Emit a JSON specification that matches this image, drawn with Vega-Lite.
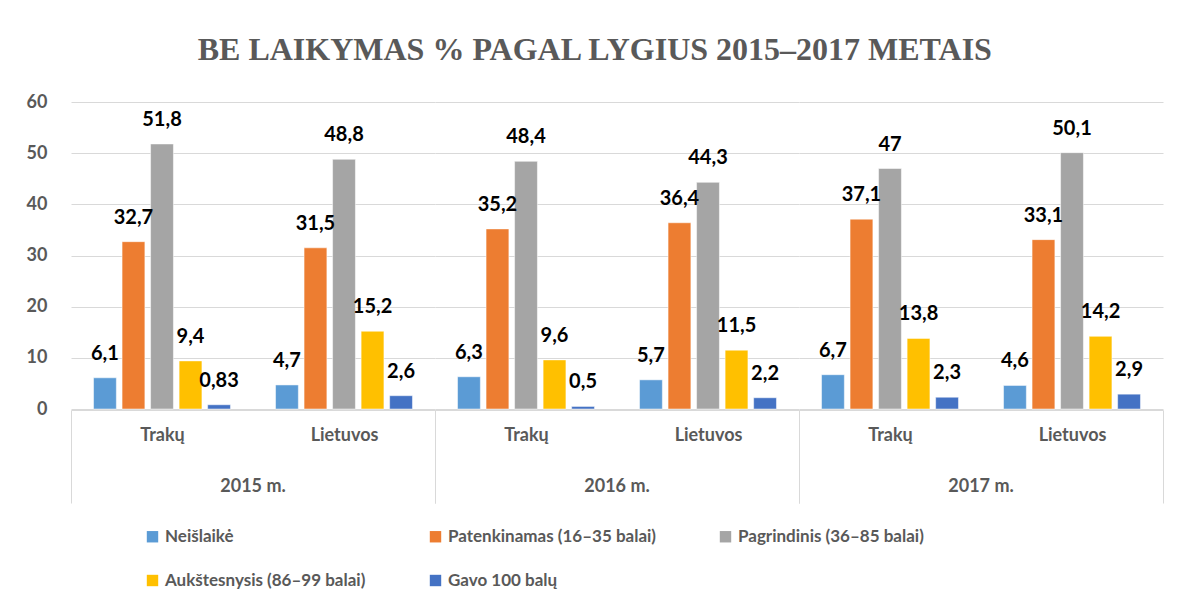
{
  "$schema": "https://vega.github.io/schema/vega-lite/v6.json",
  "background": "white",
  "padding": {"left": 26, "top": 34, "right": 20, "bottom": 5},
  "title": {"text": "BE LAIKYMAS % PAGAL LYGIUS 2015–2017 METAIS", "font": "Liberation Serif", "fontSize": 32, "fontWeight": "bold", "color": "#595959", "offset": 26, "anchor": "middle"},
  "data": {"values": [
    {"year": "2015 m.", "region": "Trakų", "series": "Neišlaikė", "value": 6.1, "label": "6,1"},
    {"year": "2015 m.", "region": "Trakų", "series": "Patenkinamas (16–35 balai)", "value": 32.7, "label": "32,7"},
    {"year": "2015 m.", "region": "Trakų", "series": "Pagrindinis (36–85 balai)", "value": 51.8, "label": "51,8"},
    {"year": "2015 m.", "region": "Trakų", "series": "Aukštesnysis (86–99 balai)", "value": 9.4, "label": "9,4"},
    {"year": "2015 m.", "region": "Trakų", "series": "Gavo 100 balų", "value": 0.83, "label": "0,83"},
    {"year": "2015 m.", "region": "Lietuvos", "series": "Neišlaikė", "value": 4.7, "label": "4,7"},
    {"year": "2015 m.", "region": "Lietuvos", "series": "Patenkinamas (16–35 balai)", "value": 31.5, "label": "31,5"},
    {"year": "2015 m.", "region": "Lietuvos", "series": "Pagrindinis (36–85 balai)", "value": 48.8, "label": "48,8"},
    {"year": "2015 m.", "region": "Lietuvos", "series": "Aukštesnysis (86–99 balai)", "value": 15.2, "label": "15,2"},
    {"year": "2015 m.", "region": "Lietuvos", "series": "Gavo 100 balų", "value": 2.6, "label": "2,6"},
    {"year": "2016 m.", "region": "Trakų", "series": "Neišlaikė", "value": 6.3, "label": "6,3"},
    {"year": "2016 m.", "region": "Trakų", "series": "Patenkinamas (16–35 balai)", "value": 35.2, "label": "35,2"},
    {"year": "2016 m.", "region": "Trakų", "series": "Pagrindinis (36–85 balai)", "value": 48.4, "label": "48,4"},
    {"year": "2016 m.", "region": "Trakų", "series": "Aukštesnysis (86–99 balai)", "value": 9.6, "label": "9,6"},
    {"year": "2016 m.", "region": "Trakų", "series": "Gavo 100 balų", "value": 0.5, "label": "0,5"},
    {"year": "2016 m.", "region": "Lietuvos", "series": "Neišlaikė", "value": 5.7, "label": "5,7"},
    {"year": "2016 m.", "region": "Lietuvos", "series": "Patenkinamas (16–35 balai)", "value": 36.4, "label": "36,4"},
    {"year": "2016 m.", "region": "Lietuvos", "series": "Pagrindinis (36–85 balai)", "value": 44.3, "label": "44,3"},
    {"year": "2016 m.", "region": "Lietuvos", "series": "Aukštesnysis (86–99 balai)", "value": 11.5, "label": "11,5"},
    {"year": "2016 m.", "region": "Lietuvos", "series": "Gavo 100 balų", "value": 2.2, "label": "2,2"},
    {"year": "2017 m.", "region": "Trakų", "series": "Neišlaikė", "value": 6.7, "label": "6,7"},
    {"year": "2017 m.", "region": "Trakų", "series": "Patenkinamas (16–35 balai)", "value": 37.1, "label": "37,1"},
    {"year": "2017 m.", "region": "Trakų", "series": "Pagrindinis (36–85 balai)", "value": 47, "label": "47"},
    {"year": "2017 m.", "region": "Trakų", "series": "Aukštesnysis (86–99 balai)", "value": 13.8, "label": "13,8"},
    {"year": "2017 m.", "region": "Trakų", "series": "Gavo 100 balų", "value": 2.3, "label": "2,3"},
    {"year": "2017 m.", "region": "Lietuvos", "series": "Neišlaikė", "value": 4.6, "label": "4,6"},
    {"year": "2017 m.", "region": "Lietuvos", "series": "Patenkinamas (16–35 balai)", "value": 33.1, "label": "33,1"},
    {"year": "2017 m.", "region": "Lietuvos", "series": "Pagrindinis (36–85 balai)", "value": 50.1, "label": "50,1"},
    {"year": "2017 m.", "region": "Lietuvos", "series": "Aukštesnysis (86–99 balai)", "value": 14.2, "label": "14,2"},
    {"year": "2017 m.", "region": "Lietuvos", "series": "Gavo 100 balų", "value": 2.9, "label": "2,9"}
  ]},
  "facet": {
    "column": {
      "field": "year", "type": "ordinal", "sort": ["2015 m.", "2016 m.", "2017 m."],
      "header": {"title": null, "labelOrient": "bottom", "labelFont": "Lato", "labelFontSize": 18, "labelFontWeight": "bold", "labelColor": "#595959", "labelPadding": -26}
    }
  },
  "spacing": 0,
  "spec": {
    "width": 364,
    "height": 307,
    "encoding": {
      "x": {
        "field": "region", "type": "nominal", "sort": ["Trakų", "Lietuvos"],
        "scale": {"paddingInner": 0, "paddingOuter": 0},
        "axis": {
          "title": null, "labelAngle": 0, "domain": true, "domainColor": "#d9d9d9", "domainWidth": 1,
          "ticks": true, "tickBand": "extent", "tickSize": 93, "tickWidth": 1,
          "tickColor": {"condition": {"test": "datum.value === 'Trakų'", "value": "transparent"}, "value": "#d9d9d9"},
          "labelPadding": -77, "labelFont": "Lato", "labelFontSize": 18, "labelFontWeight": "bold", "labelColor": "#595959"
        }
      },
      "xOffset": {
        "field": "series", "type": "nominal",
        "sort": ["Neišlaikė", "Patenkinamas (16–35 balai)", "Pagrindinis (36–85 balai)", "Aukštesnysis (86–99 balai)", "Gavo 100 balų"],
        "scale": {"paddingInner": 0.2, "paddingOuter": 0.79}
      },
      "y": {
        "field": "value", "type": "quantitative",
        "scale": {"domain": [0, 60]},
        "axis": {
          "title": null, "values": [0, 10, 20, 30, 40, 50, 60], "grid": true, "gridColor": "#d9d9d9", "gridWidth": 1,
          "domain": false, "ticks": false, "labelPadding": 24,
          "labelFont": "Lato", "labelFontSize": 18, "labelFontWeight": "bold", "labelColor": "#595959"
        }
      }
    },
    "layer": [
      {
        "mark": {"type": "bar", "stroke": "white", "strokeWidth": 0.5},
        "encoding": {
          "color": {
            "field": "series", "type": "nominal",
            "sort": ["Neišlaikė", "Patenkinamas (16–35 balai)", "Pagrindinis (36–85 balai)", "Aukštesnysis (86–99 balai)", "Gavo 100 balų"],
            "scale": {
              "domain": ["Neišlaikė", "Patenkinamas (16–35 balai)", "Pagrindinis (36–85 balai)", "Aukštesnysis (86–99 balai)", "Gavo 100 balų"],
              "range": ["#5B9BD5", "#ED7D31", "#A5A5A5", "#FFC000", "#4472C4"]
            },
            "legend": {
              "title": null, "orient": "none", "legendX": 73, "legendY": 426, "direction": "horizontal", "columns": 3, "gridAlign": "each",
              "columnPadding": 61, "rowPadding": 26,
              "symbolType": "square", "symbolSize": 130, "symbolStrokeWidth": 0, "labelOffset": 4,
              "labelFont": "Lato", "labelFontSize": 17, "labelFontWeight": "bold", "labelColor": "#595959", "labelLimit": 400
            }
          }
        }
      },
      {
        "mark": {"type": "text", "baseline": "bottom", "dy": -14, "font": "Lato", "fontSize": 20, "fontWeight": "bold", "color": "#000000"},
        "encoding": {"text": {"field": "label"}}
      }
    ]
  },
  "config": {"view": {"stroke": null}}
}
